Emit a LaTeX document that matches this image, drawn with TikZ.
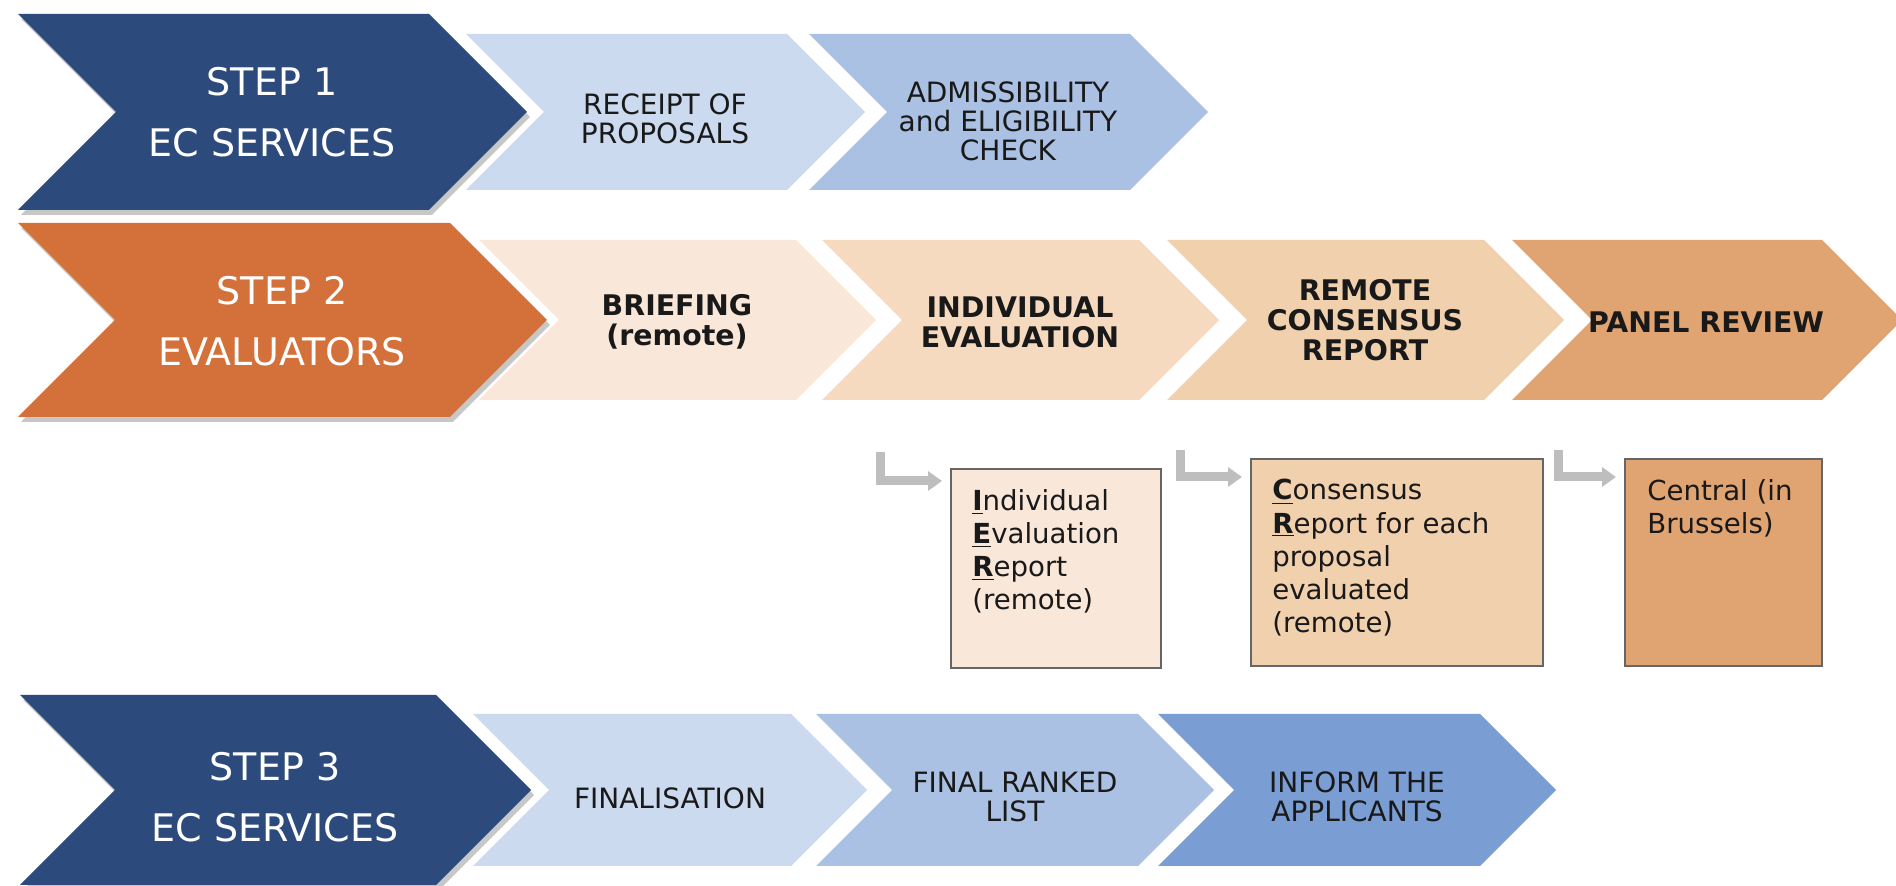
\documentclass[tikz,border=0pt]{standalone}
\usepackage{fontspec}
\setmainfont{DejaVu Sans}
\usetikzlibrary{arrows.meta,positioning,calc}

\definecolor{ecblue}{RGB}{44,74,124}
\definecolor{evorange}{RGB}{212,112,58}
\definecolor{blueA}{RGB}{203,218,239}
\definecolor{blueB}{RGB}{171,193,227}
\definecolor{blueC}{RGB}{122,157,212}
\definecolor{peachA}{RGB}{249,232,218}
\definecolor{peachB}{RGB}{246,218,192}
\definecolor{peachC}{RGB}{241,208,174}
\definecolor{peachD}{RGB}{224,163,114}
\definecolor{hookgray}{RGB}{190,190,190}

% chevron: left x, mid y, half height, length to tip, fill options
\newcommand{\chevron}[5]{%
  \fill[#5] (#1,#2-#3) -- (#1+#4-#3,#2-#3) -- (#1+#4,#2) -- (#1+#4-#3,#2+#3)
    -- (#1,#2+#3) -- (#1+#3,#2) -- cycle;}

\begin{document}
\begin{tikzpicture}[
    x=0.5pt, y=-0.5pt,
    stepname/.style={text=white, align=center, font=\fontsize{19}{30.5}\selectfont},
    lighttxt/.style={text=black!90, align=center, font=\fontsize{14}{14.5}\selectfont},
    boldtxt/.style={text=black!90, align=center, font=\bfseries\fontsize{14.2}{15}\selectfont},
    rbox/.style={rectangle, draw=black!60, line width=1pt, anchor=north west},
    rtxt/.style={anchor=north west, inner sep=0pt, align=left, text=black!90, font=\fontsize{13.8}{16.6}\selectfont},
    hook/.style={draw=hookgray, line width=4.5pt, -{Triangle[length=7pt,width=9.5pt]}, shorten >=4pt},
    shade/.style={black, opacity=.22, xshift=1.5pt, yshift=-2.5pt}
]
    \useasboundingbox (0,0) rectangle (1896,886);
    \fill[white] (0,0) rectangle (1896,886);

    % Step 1 - EC services
    \chevron{18}{112}{98}{509}{shade}
    \chevron{18}{112}{98}{509}{ecblue}
    \chevron{466}{112}{78}{399}{blueA}
    \chevron{809}{112}{78}{399}{blueB}
    \node[stepname] (s1) at (272,112) {STEP 1\\EC SERVICES};
    \node[lighttxt] (receipt) at (665,119) {RECEIPT OF\\PROPOSALS};
    \node[lighttxt] (admiss) at (1008,121) {ADMISSIBILITY\\and ELIGIBILITY\\CHECK};

    % Step 2 - evaluators
    \chevron{18}{320}{97}{529}{shade}
    \chevron{18}{320}{97}{529}{evorange}
    \chevron{479}{320}{80}{397}{peachA}
    \chevron{822}{320}{80}{397}{peachB}
    \chevron{1167}{320}{80}{397}{peachC}
    \chevron{1512}{320}{80}{390}{peachD}
    \node[stepname] (s2) at (282,321) {STEP 2\\EVALUATORS};
    \node[boldtxt] (brief) at (677,322) {BRIEFING\\(remote)};
    \node[boldtxt] (indiv) at (1020,322) {INDIVIDUAL\\EVALUATION};
    \node[boldtxt] (remote) at (1365,320) {REMOTE\\CONSENSUS\\REPORT};
    \node[boldtxt] (panel) at (1706,322) {PANEL REVIEW};

    % Reports
    \node[rbox, fill=peachA, minimum width=105pt, minimum height=99.5pt] (ier) at (950,468) {};
    \node[rbox, fill=peachC, minimum width=146pt, minimum height=103.5pt] (cr) at (1250,458) {};
    \node[rbox, fill=peachD, minimum width=98.5pt, minimum height=103.5pt] (central) at (1624,458) {};
    \node[rtxt] (iertxt) at ([xshift=11pt,yshift=-10.5pt]ier.north west)
        {\textbf{\underline{I}}ndividual\\\textbf{\underline{E}}valuation\\\textbf{\underline{R}}eport\\(remote)};
    \node[rtxt] (crtxt) at ([xshift=11pt,yshift=-10.5pt]cr.north west)
        {\textbf{\underline{C}}onsensus\\\textbf{\underline{R}}eport for each\\proposal\\evaluated\\(remote)};
    \node[rtxt] (centraltxt) at ([xshift=11.5pt,yshift=-10.5pt]central.north west)
        {Central (in\\Brussels)};

    \coordinate (h1) at (880,452);
    \coordinate (h2) at (1180,450);
    \coordinate (h3) at (1558,450);
    \draw[hook] (h1) |- ([yshift=-6.5pt]ier.north west);
    \draw[hook] (h2) |- ([yshift=-9.5pt]cr.north west);
    \draw[hook] (h3) |- ([yshift=-9.5pt]central.north west);

    % Step 3 - EC services
    \chevron{20}{790}{95}{511}{shade}
    \chevron{20}{790}{95}{511}{ecblue}
    \chevron{473}{790}{76}{394}{blueA}
    \chevron{816}{790}{76}{398}{blueB}
    \chevron{1158}{790}{76}{398}{blueC}
    \node[stepname] (s3) at (275,797) {STEP 3\\EC SERVICES};
    \node[lighttxt] (final) at (670,798) {FINALISATION};
    \node[lighttxt] (ranked) at (1015,797) {FINAL RANKED\\LIST};
    \node[lighttxt] (inform) at (1357,797) {INFORM THE\\APPLICANTS};
\end{tikzpicture}
\end{document}
